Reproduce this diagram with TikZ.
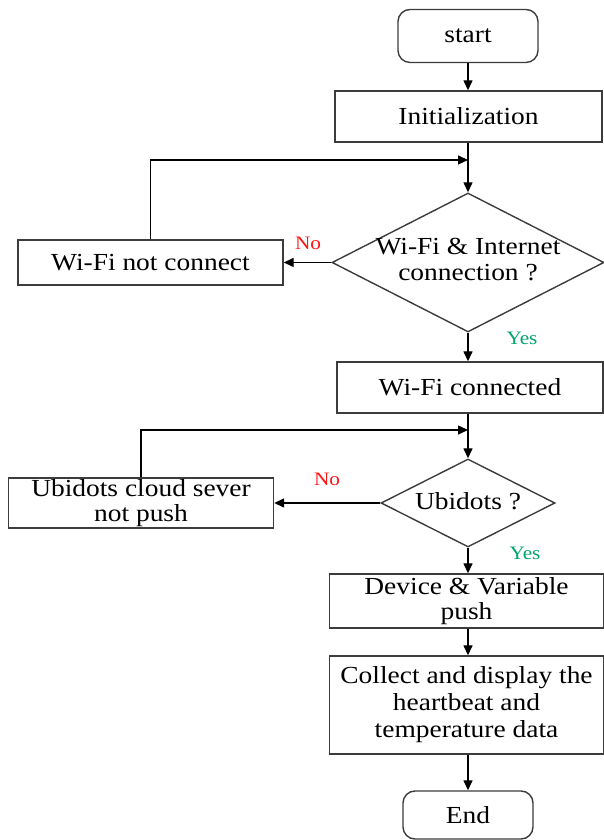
\documentclass[tikz,border=0pt]{standalone}
\usepackage{fontspec}
\setmainfont{Liberation Serif}[FakeStretch=1.12]
\usetikzlibrary{shapes.geometric,arrows.meta}
\definecolor{linegray}{RGB}{60,60,60}
\definecolor{nored}{RGB}{255,20,20}
\definecolor{yesgreen}{RGB}{0,165,110}
\begin{document}
\begin{tikzpicture}[x=1pt,y=1pt,
  every node/.style={font=\fontsize{24.5}{26}\selectfont},
  procbox/.style={draw=linegray,line width=1.4pt,rectangle,inner sep=0pt,align=center},
  termbox/.style={procbox,rounded corners=12pt},
  dia/.style={draw=linegray,line width=1.4pt,diamond,inner sep=0pt},
  txt/.style={inner sep=0pt,align=center},
  lbl/.style={inner sep=0pt,font=\fontsize{19}{21}\selectfont},
  arr/.style={draw=black,line width=1.4pt,-{Triangle[length=10pt,width=9pt]}},
  ln/.style={draw=black,line width=1.4pt}]
\useasboundingbox (0,0) rectangle (604,840);
% main column
\node[termbox,minimum width=140pt,minimum height=53pt] (start) at (468,804) {start};
\node[procbox,minimum width=267pt,minimum height=51pt] (init) at (468.5,723.5) {Initialization};
\coordinate (j1) at (468,680);
\node[dia,minimum width=272pt,minimum height=139pt] (d1) at (468,577.5) {};
\node[txt] (d1t) at (468,580) {Wi-Fi \& Internet\\connection ?};
\node[procbox,minimum width=265pt,minimum height=45pt] (nc) at (150.5,577.5) {Wi-Fi not connect};
\node[procbox,minimum width=266pt,minimum height=51pt] (wc) at (470,452.5) {Wi-Fi connected};
\coordinate (j2) at (468,410);
\node[dia,minimum width=174pt,minimum height=88pt] (d2) at (468,337) {};
\node[txt] (d2t) at (468,339) {Ubidots ?};
\node[procbox,minimum width=265pt,minimum height=50pt,font=\fontsize{24.5}{25}\selectfont] (ub) at (141,337) {Ubidots cloud sever\\not push};
\node[procbox,minimum width=274pt,minimum height=54pt,font=\fontsize{24.5}{25}\selectfont] (dev) at (466.5,239) {Device \& Variable\\push};
\node[procbox,minimum width=274pt,minimum height=98pt,font=\fontsize{24.5}{27}\selectfont] (col) at (466.5,135) {Collect and display the\\heartbeat and\\temperature data};
\node[termbox,minimum width=130pt,minimum height=48pt] (endn) at (468,25) {End};
% labels
\node[lbl,text=nored] (no1) at (308,597) {No};
\node[lbl,text=yesgreen] (yes1) at (522,502) {Yes};
\node[lbl,text=nored] (no2) at (327,361) {No};
\node[lbl,text=yesgreen] (yes2) at (525,287) {Yes};
% connectors
\draw[arr] (start.south) -- (init.north -| start.south);
\draw[ln] (init.south -| j1) -- (j1);
\draw[arr] (j1) -- (d1.north);
\draw[arr] (d1.west) -- (nc.east |- d1.west);
\draw[arr] (nc.north) -- (nc.north |- j1) -- (j1);
\draw[arr] (d1.south) -- (wc.north -| d1.south);
\draw[ln] (wc.south -| j2) -- (j2);
\draw[arr] (j2) -- (d2.north);
\draw[arr] (d2.west) -- (ub.east |- d2.west);
\draw[arr] (ub.north) -- (ub.north |- j2) -- (j2);
\draw[arr] (d2.south) -- (dev.north -| d2.south);
\draw[arr] (dev.south -| d2.south) -- (col.north -| d2.south);
\draw[arr] (col.south -| d2.south) -- (endn.north);
\end{tikzpicture}
\end{document}
